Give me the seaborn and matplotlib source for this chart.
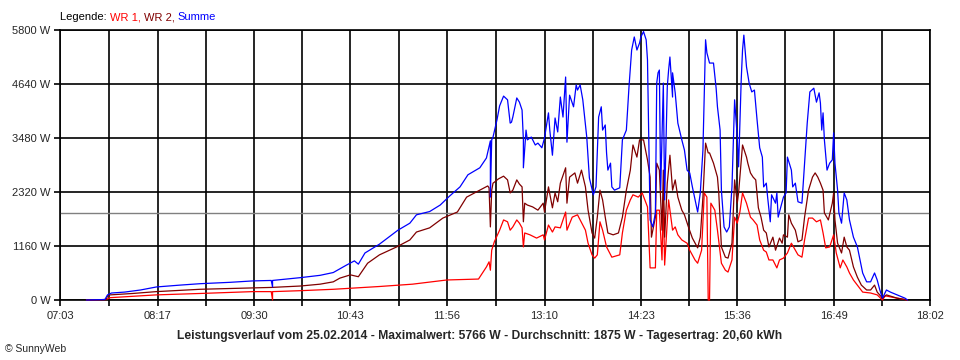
import pandas as pd
import matplotlib
matplotlib.use("Agg")
import matplotlib.pyplot as plt
import seaborn as sns

# Zeitachse (Beschriftung) und Leistungsachse
x_labels = ["07:03", "08:17", "09:30", "10:43", "11:56", "13:10", "14:23", "15:36", "16:49", "18:02"]
y_ticks = [0, 1160, 2320, 3480, 4640, 5800]
durchschnitt = 1875

# WR 1 (rot)
t_wr1 = ["07:23", "07:38", "07:41", "08:16", "08:49", "09:29", "09:43", "09:44", "09:44", "10:05",
         "10:30", "11:05", "11:30", "11:56", "12:20", "12:23", "12:26", "12:28", "12:29", "12:30",
         "12:32", "12:36", "12:39", "12:42", "12:44", "12:46", "12:49", "12:51", "12:53", "12:54",
         "12:55", "12:59", "13:04", "13:09", "13:10", "13:13", "13:16", "13:18", "13:22", "13:26",
         "13:27", "13:31", "13:35", "13:37", "13:41", "13:43", "13:46", "13:48", "13:50", "13:52",
         "13:54", "13:57", "14:01", "14:07", "14:09", "14:12", "14:15", "14:17", "14:21", "14:24",
         "14:28", "14:30", "14:34", "14:35", "14:37", "14:39", "14:40", "14:41", "14:44", "14:47",
         "14:49", "14:51", "14:54", "14:58", "15:00", "15:04", "15:06", "15:09", "15:11", "15:13",
         "15:14", "15:15", "15:16", "15:19", "15:21", "15:24", "15:27", "15:29", "15:32", "15:34",
         "15:36", "15:38", "15:40", "15:43", "15:46", "15:48", "15:51", "15:53", "15:56", "15:58",
         "16:00", "16:03", "16:06", "16:08", "16:11", "16:14", "16:17", "16:20", "16:22", "16:25",
         "16:27", "16:30", "16:33", "16:36", "16:39", "16:41", "16:43", "16:46", "16:49", "16:51",
         "16:54", "16:56", "16:59", "17:01", "17:04", "17:08", "17:11", "17:17", "17:22", "17:26",
         "17:28", "17:37", "17:45"]
p_wr1 = [0, 10, 50, 110, 140, 180, 180, 0, 180, 200,
         230, 290, 340, 430, 450, 580, 710, 820, 640, 1070,
         1250, 1500, 1720, 1680, 1500, 1570, 1720, 1650, 1550, 1140,
         1440, 1400, 1330, 1400, 1290, 1610, 1460, 1570, 1550, 1890,
         1500, 1780, 1830, 1720, 1500, 1220, 970, 900, 970, 1680,
         1500, 1140, 920, 970, 1440, 1930, 2150, 2260, 2210, 2300,
         2000, 690, 690, 1930, 1930, 860, 2150, 750, 2150, 1500,
         1570, 1400, 1290, 1220, 1070, 860, 790, 1070, 2300, 2210,
         0, 0, 2080, 1930, 1500, 790, 640, 600, 860, 1780,
         1650, 1890, 2300, 2080, 1780, 1720, 1610, 1290, 1070, 1030,
         860, 860, 690, 860, 900, 1010, 1220, 1070, 970, 920,
         1290, 1760, 1760, 1680, 1720, 1440, 1120, 1140, 1400, 1010,
         690, 860, 710, 580, 430, 280, 170, 150, 110, 0,
         90, 40, 0]

# WR 2 (dunkelrot)
t_wr2 = ["07:23", "07:38", "07:39", "07:41", "07:58", "08:16", "08:49", "09:29", "09:43", "10:05",
         "10:20", "10:30", "10:35", "10:43", "10:49", "10:56", "11:05", "11:18", "11:28", "11:33",
         "11:43", "11:53", "12:04", "12:11", "12:21", "12:27", "12:28", "12:29", "12:30", "12:31",
         "12:32", "12:35", "12:39", "12:42", "12:44", "12:46", "12:49", "12:51", "12:53", "12:54",
         "12:55", "12:57", "13:01", "13:05", "13:09", "13:10", "13:13", "13:16", "13:18", "13:20",
         "13:22", "13:26", "13:27", "13:29", "13:33", "13:35", "13:38", "13:41", "13:43", "13:46",
         "13:48", "13:50", "13:52", "13:54", "13:56", "13:58", "14:02", "14:06", "14:09", "14:12",
         "14:15", "14:17", "14:20", "14:22", "14:25", "14:28", "14:30", "14:31", "14:34", "14:35",
         "14:37", "14:39", "14:40", "14:41", "14:43", "14:45", "14:47", "14:49", "14:51", "14:54",
         "14:56", "14:59", "15:02", "15:06", "15:08", "15:10", "15:12", "15:14", "15:15", "15:18",
         "15:21", "15:22", "15:24", "15:27", "15:29", "15:32", "15:34", "15:36", "15:37", "15:40",
         "15:43", "15:44", "15:46", "15:48", "15:50", "15:52", "15:54", "15:56", "15:58", "16:00",
         "16:03", "16:05", "16:08", "16:10", "16:11", "16:14", "16:15", "16:17", "16:20", "16:22",
         "16:25", "16:27", "16:30", "16:33", "16:35", "16:37", "16:39", "16:41", "16:42", "16:45",
         "16:48", "16:49", "16:50", "16:52", "16:55", "16:57", "16:59", "17:01", "17:04", "17:07",
         "17:10", "17:14", "17:17", "17:20", "17:22", "17:26", "17:29", "17:37", "17:45"]
p_wr2 = [0, 10, 90, 110, 140, 180, 230, 260, 270, 300,
         340, 390, 470, 540, 500, 790, 970, 1140, 1290, 1460,
         1550, 1760, 1890, 2210, 2360, 2450, 2410, 1570, 2360, 2510,
         2530, 2600, 2660, 2580, 2300, 2360, 2580, 2490, 2430, 1680,
         2080, 2040, 2000, 1930, 2080, 1890, 2430, 1980, 2300, 2110,
         2510, 2840, 2080, 2640, 2730, 2510, 2790, 2430, 1930, 1440,
         1330, 1780, 2360, 2150, 1780, 1440, 1400, 1440, 1780, 2360,
         2790, 3330, 3070, 3440, 3440, 3010, 2640, 1350, 1780, 2940,
         2790, 1500, 2790, 1350, 2510, 3110, 2360, 2580, 2210, 1930,
         1830, 1570, 1330, 1120, 1350, 2210, 3370, 3160, 3160, 2940,
         2640, 2300, 1140, 920, 900, 1220, 2580, 2080, 2300, 3330,
         3070, 2940, 2730, 2640, 2580, 1980, 1780, 1500, 1440, 1140,
         1350, 1070, 1330, 1220, 1400, 1350, 1830, 1650, 1500, 1250,
         1290, 1780, 2360, 2640, 2730, 2640, 2510, 2360, 1870, 1720,
         2080, 2300, 1720, 1220, 1010, 1350, 1140, 1070, 710, 490,
         320, 215, 215, 320, 170, 40, 110, 40, 0]

# Summe (blau)
t_sum = ["07:23", "07:37", "07:39", "07:42", "07:52", "08:04", "08:16", "08:34", "08:49", "09:12",
         "09:29", "09:43", "09:44", "09:44", "10:05", "10:20", "10:30", "10:40", "10:46", "10:49",
         "10:54", "11:05", "11:19", "11:28", "11:33", "11:43", "11:51", "11:58", "12:06", "12:12",
         "12:21", "12:26", "12:29", "12:29", "12:30", "12:31", "12:34", "12:36", "12:39", "12:42",
         "12:44", "12:45", "12:46", "12:49", "12:51", "12:53", "12:54", "12:54", "12:56", "12:57",
         "13:00", "13:03", "13:05", "13:08", "13:10", "13:13", "13:14", "13:16", "13:18", "13:20",
         "13:22", "13:24", "13:26", "13:27", "13:29", "13:32", "13:34", "13:35", "13:37", "13:39",
         "13:42", "13:44", "13:47", "13:49", "13:51", "13:53", "13:54", "13:56", "13:57", "13:58",
         "14:00", "14:01", "14:03", "14:07", "14:09", "14:12", "14:14", "14:16", "14:18", "14:20",
         "14:22", "14:23", "14:25", "14:27", "14:28", "14:30", "14:32", "14:34", "14:35", "14:36",
         "14:37", "14:38", "14:40", "14:41", "14:43", "14:44", "14:45", "14:47", "14:47", "14:49",
         "14:51", "14:54", "14:56", "14:58", "15:00", "15:02", "15:06", "15:08", "15:10", "15:12",
         "15:13", "15:15", "15:18", "15:20", "15:21", "15:23", "15:24", "15:26", "15:28", "15:30",
         "15:32", "15:34", "15:36", "15:37", "15:39", "15:40", "15:41", "15:43", "15:45", "15:47",
         "15:49", "15:51", "15:53", "15:55", "15:56", "15:58", "15:59", "16:01", "16:02", "16:05",
         "16:06", "16:07", "16:09", "16:11", "16:13", "16:14", "16:17", "16:18", "16:20", "16:22",
         "16:25", "16:27", "16:29", "16:31", "16:34", "16:36", "16:38", "16:39", "16:40", "16:41",
         "16:42", "16:44", "16:46", "16:48", "16:49", "16:50", "16:52", "16:53", "16:55", "16:57",
         "16:59", "17:01", "17:04", "17:07", "17:09", "17:11", "17:14", "17:17", "17:20", "17:22",
         "17:24", "17:26", "17:29", "17:32", "17:37", "17:43", "17:45"]
p_sum = [0, 10, 110, 150, 170, 215, 280, 320, 350, 380,
         410, 420, 280, 420, 480, 530, 590, 750, 840, 770,
         1010, 1200, 1500, 1650, 1830, 1900, 2040, 2230, 2430, 2690,
         2840, 3050, 3420, 2210, 3440, 3500, 3870, 4170, 4380, 4300,
         3800, 3820, 3930, 4340, 4250, 4080, 3440, 2840, 3650, 3440,
         3500, 3330, 3370, 3270, 3480, 4020, 3650, 3110, 3910, 3610,
         4360, 3930, 4790, 3390, 4400, 4150, 4620, 4510, 4620, 4300,
         3500, 2620, 2260, 2430, 3930, 4150, 3650, 3760, 3160, 2790,
         2940, 2430, 2360, 2410, 3440, 3650, 4580, 5370, 5650, 5370,
         5520, 5650, 5766, 5590, 5160, 1720, 1570, 1870, 4660, 4880,
         4940, 2360, 4660, 2150, 4580, 4940, 5220, 4360, 4880, 4450,
         3800, 3440, 3220, 2790, 2730, 2430, 1890, 2300, 3220, 5590,
         5310, 5090, 5090, 4550, 4150, 3650, 2360, 1570, 1460, 1570,
         2430, 4300, 3500, 2860, 4730, 5370, 5690, 5010, 4660, 4470,
         4510, 3870, 3270, 3070, 2430, 2510, 2210, 1680, 2260, 2080,
         2300, 1780, 2000, 2210, 2300, 3070, 2790, 2430, 2510, 2110,
         2080, 2940, 3800, 4470, 4550, 4250, 4450, 4230, 3650, 4020,
         3440, 2790, 2940, 3010, 3590, 2940, 2360, 1870, 1650, 2300,
         2150, 1720, 1350, 1140, 860, 580, 390, 390, 580, 430,
         215, 40, 215, 170, 110, 40, 0]


def to_min(s):
    h, m = s.split(":")
    return int(h) * 60 + int(m)


frames = []
for name, t, p in [("WR 1", t_wr1, p_wr1), ("WR 2", t_wr2, p_wr2), ("Summe", t_sum, p_sum)]:
    frames.append(pd.DataFrame({"min": [to_min(s) for s in t], "W": p, "Serie": name}))
df = pd.concat(frames, ignore_index=True)

farben = {"WR 1": "#ff0000", "WR 2": "#800000", "Summe": "#0000ff"}

sns.set_style("white")
plt.rcParams["font.family"] = ["Liberation Sans", "DejaVu Sans"]

fig = plt.figure(figsize=(9.6, 3.6), dpi=100)
ax = fig.add_axes([60 / 960, 60 / 360, 870 / 960, 270 / 360])

x_pos = [to_min(s) for s in x_labels]
x_mid = [(a + b) / 2 for a, b in zip(x_pos[:-1], x_pos[1:])]

ax.set_xlim(x_pos[0], x_pos[-1])
ax.set_ylim(0, 5800)

# Gitter
for x in x_pos + x_mid:
    ax.axvline(x, color="black", lw=1.2, zorder=1)
for y in y_ticks:
    ax.axhline(y, color="black", lw=1.2, zorder=1)
ax.axhline(durchschnitt, color="#808080", lw=1.0, zorder=1.5)

sns.lineplot(data=df, x="min", y="W", hue="Serie", palette=farben, estimator=None,
             sort=False, lw=0.9, legend=False, ax=ax, zorder=3)
# Linien bei 0 W sollen über der Achse sichtbar bleiben
for ln in ax.lines:
    if ln.get_color() in ("#ff0000", "#800000", "#0000ff"):
        ln.set_clip_on(False)
        ln.set_zorder(4)

ax.set_xticks(x_pos)
ax.set_xticklabels(x_labels)
ax.set_xticks(x_mid, minor=True)
ax.set_yticks(y_ticks)
ax.set_yticklabels([f"{v} W" for v in y_ticks])
ax.tick_params(axis="both", which="both", direction="out", length=4, width=1.2,
               color="black", labelsize=8, pad=3, bottom=True, left=True)
ax.tick_params(axis="x", pad=4)
ax.set_xlabel("")
ax.set_ylabel("")
for sp in ax.spines.values():
    sp.set_color("black")
    sp.set_linewidth(1.2)

# Legende oben links
t0 = fig.text(60 / 960, 1 - 17 / 360, "Legende: ", fontsize=8, color="black", va="center", ha="left")
prev = t0
for txt, col in [("WR 1, ", farben["WR 1"]), ("WR 2, ", farben["WR 2"]), ("Summe", farben["Summe"])]:
    prev = ax.annotate(txt, xy=(1, 0), xycoords=prev, va="bottom", ha="left",
                       fontsize=8, color=col)

fig.text(0.5, 1 - 336 / 360,
         "Leistungsverlauf vom 25.02.2014 - Maximalwert: 5766 W - Durchschnitt: 1875 W - Tagesertrag: 20,60 kWh",
         ha="center", va="center", fontsize=8.7, fontweight="bold")
fig.text(5 / 960, 1 - 349 / 360, "© SunnyWeb", ha="left", va="center", fontsize=7.5)

fig.savefig("out.png", dpi=100, facecolor="white")
